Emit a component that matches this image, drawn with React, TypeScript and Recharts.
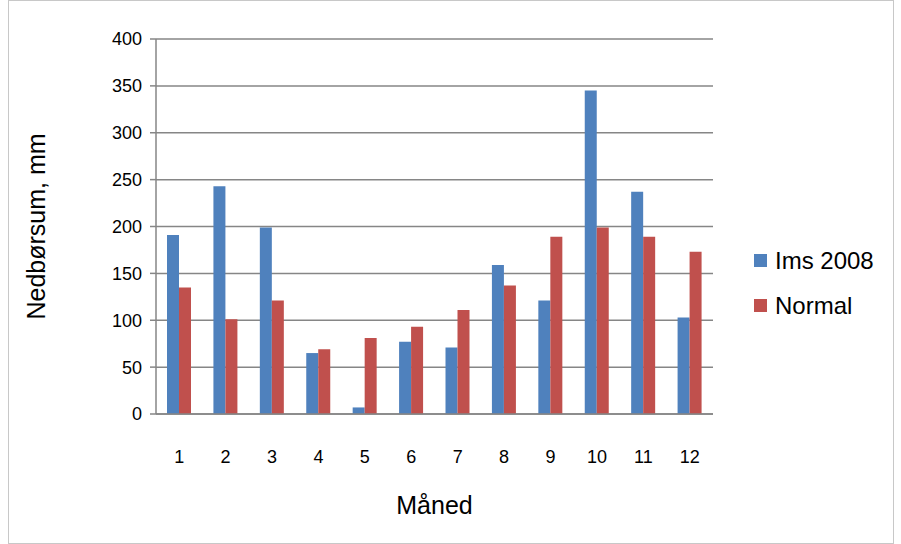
import React from 'react';
import { BarChart, Bar, XAxis, YAxis, CartesianGrid, Label } from 'recharts';

const months = ['1', '2', '3', '4', '5', '6', '7', '8', '9', '10', '11', '12'];
const ims2008 = [191, 243, 199, 65, 7, 77, 71, 159, 121, 345, 237, 103];
const normal = [135, 101, 121, 69, 81, 93, 111, 137, 189, 199, 189, 173];
const yTicks = [0, 50, 100, 150, 200, 250, 300, 350, 400];

const SERIES = [
  { key: 'ims', label: 'Ims 2008', color: '#4F81BD' },
  { key: 'normal', label: 'Normal', color: '#C0504D' },
];

const data = months.map((m, i) => ({ month: m, ims: ims2008[i], normal: normal[i] }));

const font = 'Liberation Sans, Arial, sans-serif';

function LegendBox() {
  return (
    <div style={{ position: 'absolute', left: 745, top: 237, fontFamily: font, fontSize: 24, color: '#000' }}>
      {SERIES.map((s) => (
        <div key={s.key} style={{ display: 'flex', alignItems: 'center', height: 45 }}>
          <span style={{ width: 13, height: 13, background: s.color, marginRight: 8, display: 'inline-block' }} />
          {s.label}
        </div>
      ))}
    </div>
  );
}

export default function App() {
  return (
    <div style={{ position: 'absolute', left: 8, top: 0, width: 884, height: 542, border: '1px solid #c8c8c8', background: '#fff' }}>
      <BarChart
        width={884}
        height={542}
        data={data}
        margin={{ top: 38, right: 180, left: 67, bottom: 59 }}
        barSize={12}
        barGap={0}
      >
        <CartesianGrid vertical={false} stroke="#868686" strokeWidth={1.5} />
        <XAxis
          dataKey="month"
          axisLine={{ stroke: '#868686', strokeWidth: 1.5 }}
          tickLine={false}
          tick={{ fontFamily: font, fontSize: 18, fill: '#000', dy: 28 }}
          height={70}
        >
          <Label value="Måned" position="insideBottom" offset={-30} style={{ fontFamily: font, fontSize: 25, fill: '#000' }} />
        </XAxis>
        <YAxis
          domain={[0, 400]}
          ticks={yTicks}
          interval={0}
          width={80}
          axisLine={{ stroke: '#868686', strokeWidth: 1.5 }}
          tickLine={{ stroke: '#868686', strokeWidth: 1.5 }}
          tickSize={6}
          tick={{ fontFamily: font, fontSize: 18, fill: '#000', dx: -6 }}
        >
          <Label value="Nedbørsum, mm" angle={-90} position="insideLeft" offset={-40} style={{ fontFamily: font, fontSize: 25, fill: '#000', textAnchor: 'middle' }} />
        </YAxis>
        {SERIES.map((s) => (
          <Bar key={s.key} dataKey={s.key} name={s.label} fill={s.color} isAnimationActive={false} />
        ))}
      </BarChart>
      <LegendBox />
    </div>
  );
}
